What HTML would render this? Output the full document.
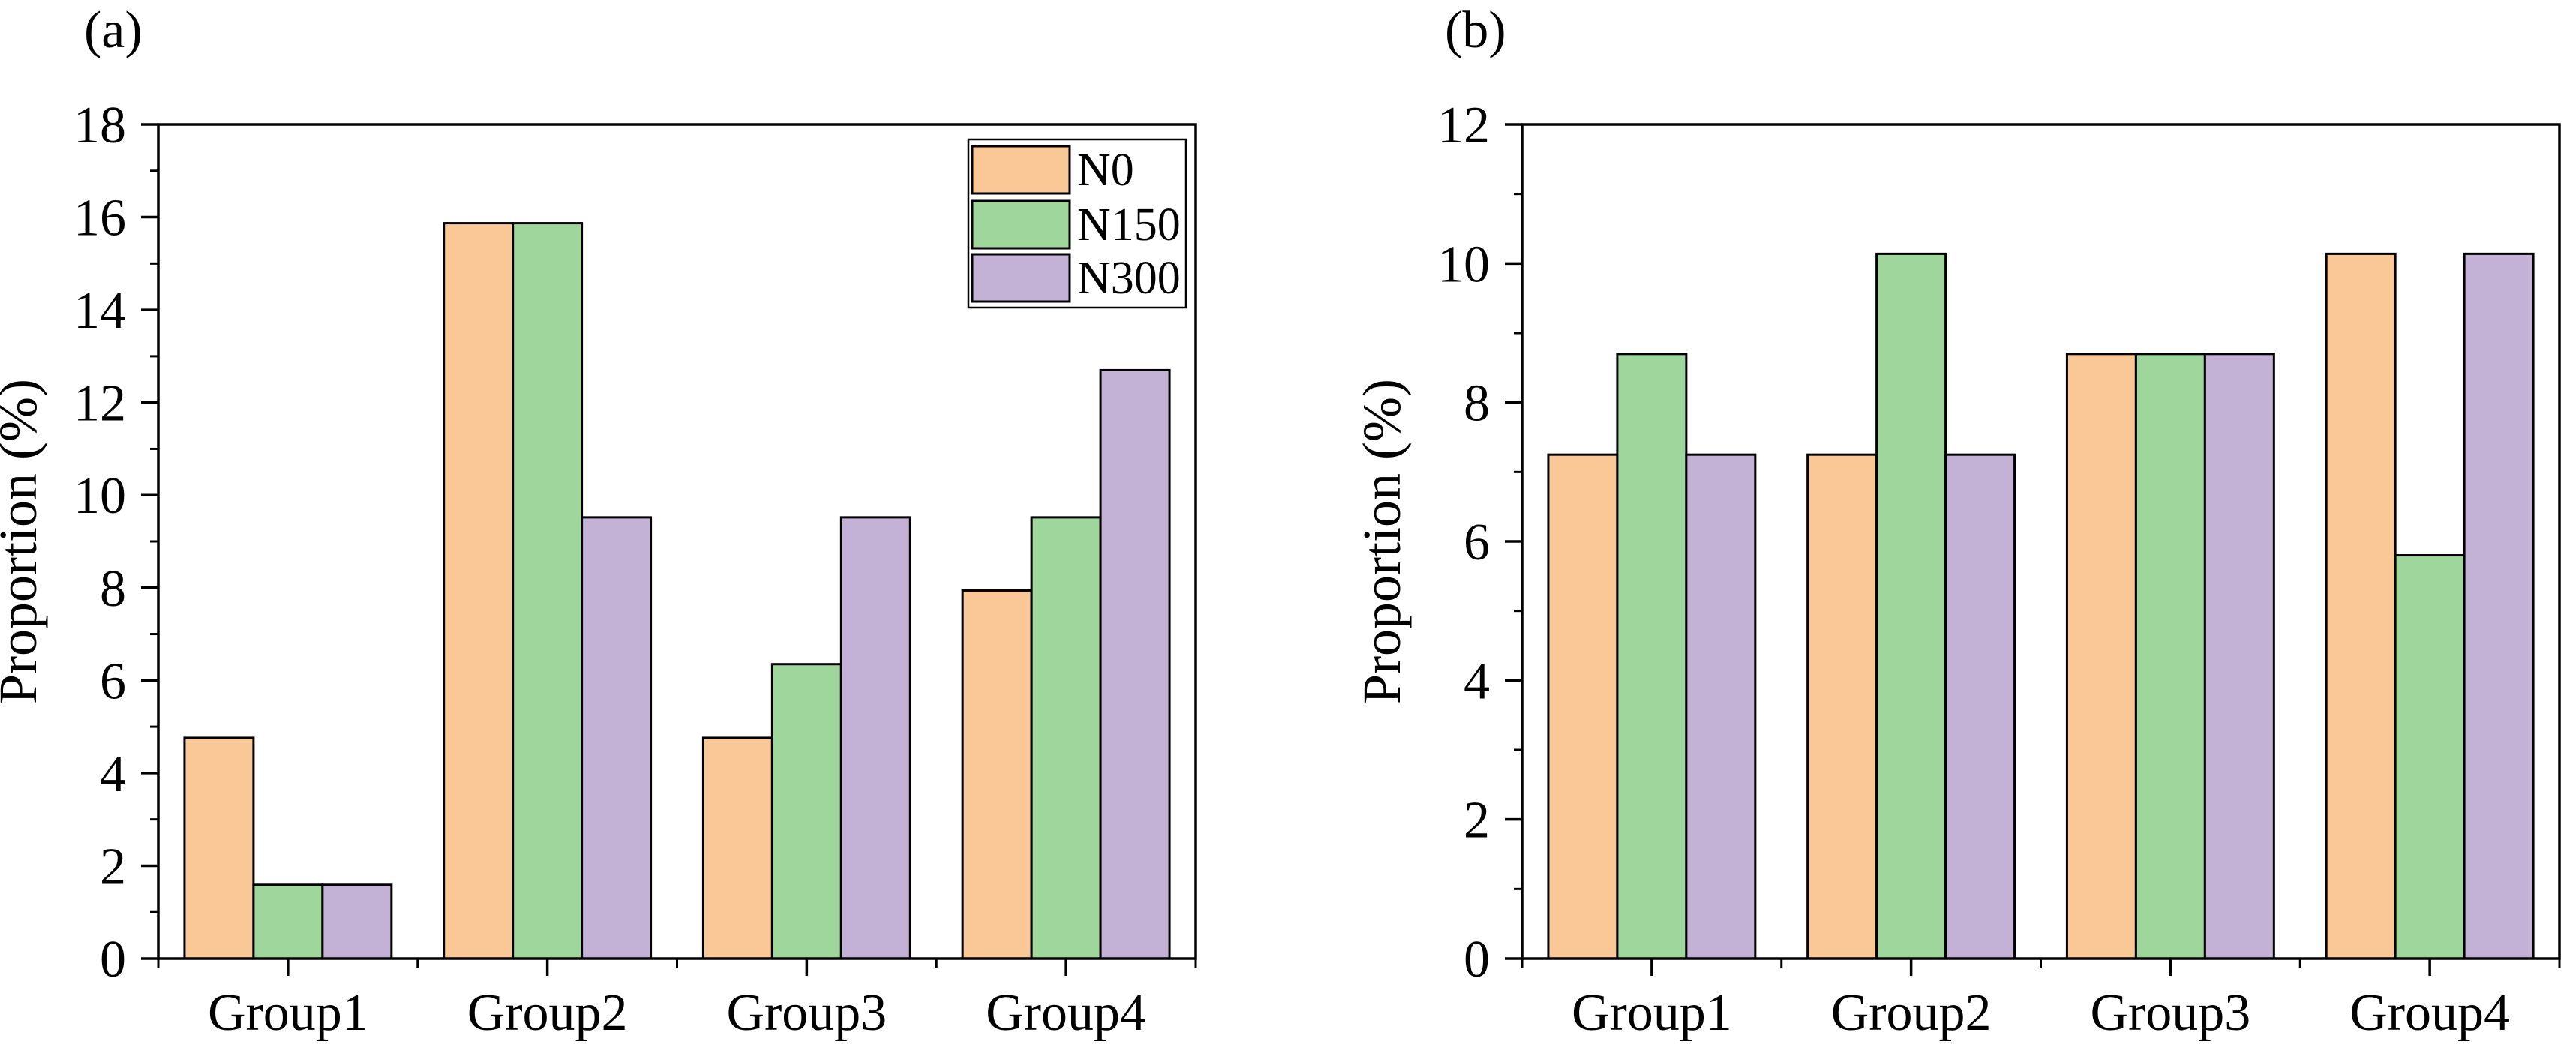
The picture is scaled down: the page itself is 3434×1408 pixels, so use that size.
<!DOCTYPE html>
<html><head><meta charset="utf-8"><style>
html,body{margin:0;padding:0;background:#fff;}
svg{display:block;font-family:"Liberation Serif",serif;}
</style></head><body>
<svg id="chart" width="3434" height="1408" viewBox="0 0 3434 1408" xmlns="http://www.w3.org/2000/svg"></svg>
<script>
const categories = ["Group1","Group2","Group3","Group4"];
const seriesNames = ["N0","N150","N300"];
const seriesColors = ["#FAC897","#9ED69B","#C3B2D6"];
const aN0 = [4.76,15.87,4.76,7.94];
const aN150 = [1.59,15.87,6.35,9.52];
const aN300 = [1.59,9.52,9.52,12.7];
const bN0 = [7.25,7.25,8.7,10.14];
const bN150 = [8.7,10.14,8.7,5.8];
const bN300 = [7.25,7.25,8.7,10.14];
const aTicks = [0,2,4,6,8,10,12,14,16,18];
const bTicks = [0,2,4,6,8,10,12];

const NS="http://www.w3.org/2000/svg";
const svg=document.getElementById('chart');
function mk(tag,attrs,parent){const e=document.createElementNS(NS,tag);for(const k in attrs)e.setAttribute(k,attrs[k]);(parent||svg).appendChild(e);return e;}

function panel(id,x0,x1,y0,y1,ymax,ticks,series,label,legend){
  const g=mk('g',{});
  
  
  const yS=v=>y1-(v/ymax)*(y1-y0);
  const gw=(x1-x0)/categories.length;
  const bw=gw*0.266;
  // bars
  series.forEach((vals,si)=>{
    vals.forEach((v,ci)=>{
      const cx=x0+gw*(ci+0.5);
      const bx=cx-1.5*bw+si*bw;
      const r=mk('rect',{x:bx,y:yS(v),width:bw,height:yS(0)-yS(v),fill:seriesColors[si],stroke:'#000','stroke-width':3},g);
      
      
    });
  });
  // frame
  const fr=mk('rect',{x:x0,y:y0,width:x1-x0,height:y1-y0,fill:'none',stroke:'#000','stroke-width':3.5},g);
  
  
  // y ticks
  ticks.forEach(t=>{
    const y=yS(t);
    mk('line',{x1:x0-23,x2:x0,y1:y,y2:y,stroke:'#000','stroke-width':3.5},g);
    const tx=mk('text',{x:x0-43,y:y+24,'text-anchor':'end','font-size':70,fill:'#000'},g);
    tx.textContent=t;
    
    
  });
  for(let t=1;t<ymax;t+=2){const y=yS(t);mk('line',{x1:x0-11,x2:x0,y1:y,y2:y,stroke:'#000','stroke-width':3},g);}
  // x ticks
  categories.forEach((c,ci)=>{
    const cx=x0+gw*(ci+0.5);
    mk('line',{x1:cx,x2:cx,y1:y1,y2:y1+23,stroke:'#000','stroke-width':3.5},g);
    const tx=mk('text',{x:cx,y:y1+95,'text-anchor':'middle','font-size':70,fill:'#000'},g);
    tx.textContent=c;
    
    
  });
  for(let i=0;i<=categories.length;i++){const x=x0+gw*i;mk('line',{x1:x,x2:x,y1:y1,y2:y1+13,stroke:'#000','stroke-width':3},g);}
  // y title
  const cyy=(y0+y1)/2;
  const yt=mk('text',{x:0,y:0,'text-anchor':'middle','font-size':72,fill:'#000',transform:`translate(${x0-163},${cyy}) rotate(-90)`},g);
  yt.textContent='Proportion (%)';
  
  
  // panel label
  const pl=mk('text',{x:label.x,y:63,'font-size':70,fill:'#000'},g);
  pl.textContent=label.t;
  
  
  if(legend){
    const lg=mk('g',{},g);
    
    
    mk('rect',{x:1291,y:186,width:290,height:224,fill:'#fff',stroke:'#000','stroke-width':2.5},lg);
    const rows=[195,268,339];
    seriesNames.forEach((n,si)=>{
      const e=mk('g',{},lg);
      
      
      mk('rect',{x:1296,y:rows[si],width:130,height:63,fill:seriesColors[si],stroke:'#000','stroke-width':3},e);
      const t=mk('text',{x:1436,y:rows[si]+52,'font-size':62,fill:'#000'},e);
      t.textContent=n;
    });
  }
}
panel('a',211,1594,166,1278,18,aTicks,[aN0,aN150,aN300],{x:112,t:'(a)'},true);
panel('b',2029,3412,166,1278,12,bTicks,[bN0,bN150,bN300],{x:1926,t:'(b)'},false);
</script>
</body></html>
